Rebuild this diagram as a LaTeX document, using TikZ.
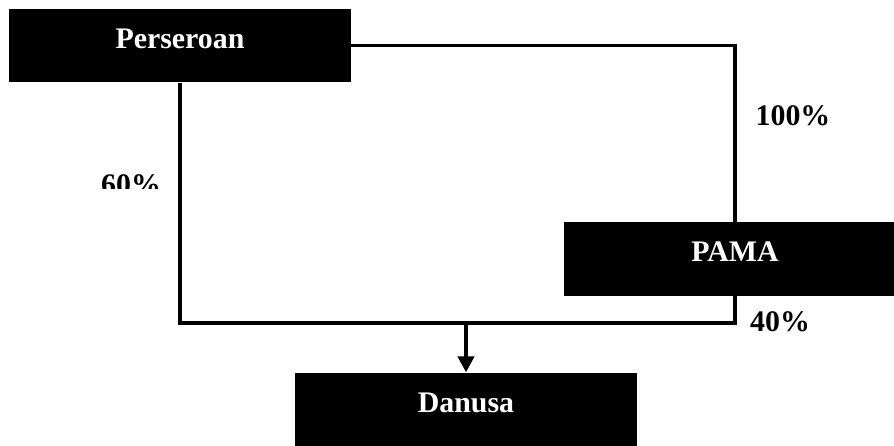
\documentclass[tikz,border=0pt]{standalone}
\usepackage{fontspec}
\setmainfont{Liberation Serif}
\usetikzlibrary{arrows.meta}
\usetikzlibrary{positioning}

\tikzset{
	company/.style={fill=black, text=white, font=\fontsize{17}{20}\selectfont\bfseries,
		minimum width=6.84cm, minimum height=1.47cm, text height=0.4cm, text depth=0.28cm, inner sep=0pt},
	share/.style={font=\fontsize{17}{20}\selectfont\bfseries, inner sep=0pt},
	link/.style={line width=2.2pt}
}

\begin{document}
\begin{tikzpicture}[x=0.02cm, y=-0.02cm, >={Triangle[length=0.32cm,width=0.32cm]}]
\useasboundingbox (0,0) rectangle (894,446);

\node[company] (pers) at (180,45.5) {Perseroan};
\node[company] (pama) at (735,259) {PAMA};
\node[company] (dan) at (466,409.5) {Danusa};

\coordinate (corner) at (pama.south |- 0,323);
\coordinate (mid) at (dan.north |- corner);

\draw[link] (pers.east) -| (pama.north);
\draw[link] (pers.south) |- (corner) -- (pama.south);
\draw[link,->] (mid) -- (dan.north);

\node[share] (p100) at (793,116) {100\%};
\node[share] (p40) at (780,322) {40\%};
\begin{scope}
	\clip (0,0) rectangle (894,189);
	\node[share] (p60) at (131,185) {60\%};
\end{scope}
\end{tikzpicture}
\end{document}
